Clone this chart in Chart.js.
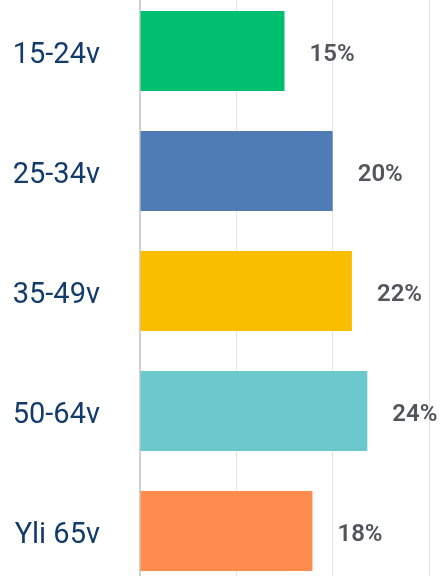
<!DOCTYPE html>
<html>
<head>
<meta charset="utf-8">
<script src="https://cdn.jsdelivr.net/npm/chart.js@4/dist/chart.umd.min.js"></script>
<style>
  html, body { margin:0; padding:0; background:#fff; overflow:hidden; }
  #wrap { position:absolute; left:0; top:-9px; width:447px; height:600px; }
</style>
</head>
<body>
<div id="wrap"><canvas id="graphicFirst" width="447" height="600"></canvas></div>
<script>
//-----Data
const ageGroups = ['15-24v', '25-34v', '35-49v', '50-64v', 'Yli 65v'];
const shareValues = [15, 20, 22, 23.6, 17.9];
const barColors = ['#00bf6f', '#507cb6', '#f9be00', '#6bc8cd', '#ff8b4f'];

//----Labels after each bar
const valueLabels = {
  id: 'valueLabels',
  afterDatasetsDraw(chart) {
    const ctx = chart.ctx;
    const meta = chart.getDatasetMeta(0);
    ctx.save();
    ctx.font = '600 24px Roboto';
    ctx.fillStyle = '#52565c';
    ctx.textAlign = 'left';
    ctx.textBaseline = 'middle';
    meta.data.forEach(function(bar, i){
      ctx.fillText(Math.round(shareValues[i]) + '%', bar.x + 25, bar.y + 4);
    });
    ctx.restore();
  }
};

var setOptions = {
  responsive: false,
  animation: false,
  indexAxis: 'y',
  layout: { padding: { left: 0, right: 18, top: 0, bottom: 0 } },
  plugins: {
    legend: { display: false },
    tooltip: { enabled: false },
  },
  scales: {
    x: {
      min: 0,
      max: 30,
      ticks: { display: false, stepSize: 10 },
      grid: { color: '#e4e4e4', lineWidth: 1, drawTicks: false },
      border: { display: false },
    },
    y: {
      afterFit: function(scale){
        scale.width = 140;
        scale.paddingTop = 0;
        scale.paddingBottom = 0;
      },
      ticks: {
        color: '#143c6a',
        font: { family: 'Roboto', size: 29 },
        padding: 40,
        labelOffset: 5,
      },
      grid: { display: false, drawTicks: false },
      border: { display: true, color: '#d0d0d0', width: 2 },
    }
  }
};

var data1 = {
  labels: ageGroups,
  datasets: [{
    data: shareValues,
    backgroundColor: barColors,
    borderWidth: 0,
    barPercentage: 1,
    categoryPercentage: 0.667,
  }]
};

var ctx = document.getElementById('graphicFirst').getContext('2d');
var chart1 = new Chart(ctx, {
  type: 'bar',
  data: data1,
  options: setOptions,
  plugins: [valueLabels],
});
</script>
</body>
</html>
